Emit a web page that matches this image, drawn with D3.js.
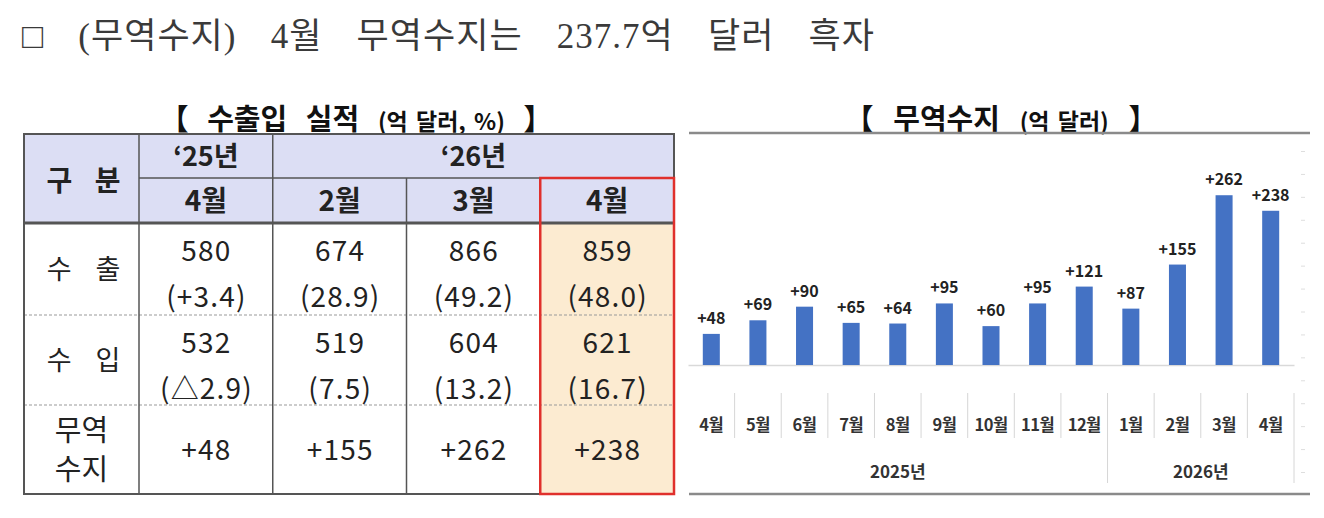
<!DOCTYPE html>
<html>
<head>
<meta charset="utf-8">
<script src="https://cdn.jsdelivr.net/npm/d3@7"></script>
<style>
  body { margin: 0; background: #fff; }
  svg { display: block; }
</style>
</head>
<body>
<script>
// ---- table data ----
var tblYears = ["‘25년", "‘26년"];
var tblYearSpan = [1, 3];
var tblMonths = ["4월", "2월", "3월", "4월"];
var rowLabels = [["수 출"], ["수 입"], ["무역", "수지"]];
var exportAmt = ["580", "674", "866", "859"];
var exportRate = ["(+3.4)", "(28.9)", "(49.2)", "(48.0)"];
var importAmt = ["532", "519", "604", "621"];
var importRate = ["(△2.9)", "(7.5)", "(13.2)", "(16.7)"];
var balanceTbl = ["+48", "+155", "+262", "+238"];

// ---- chart data ----
var balMonths = ["4월", "5월", "6월", "7월", "8월", "9월", "10월", "11월", "12월", "1월", "2월", "3월", "4월"];
var balYears = ["2025년", "2025년", "2025년", "2025년", "2025년", "2025년", "2025년", "2025년", "2025년",
                "2026년", "2026년", "2026년", "2026년"];
var balValues = [48, 69, 90, 65, 64, 95, 60, 95, 121, 87, 155, 262, 238];

var W = 1324, H = 518;
var kr = "'Noto Sans CJK KR', 'Noto Sans', sans-serif";

var svg = d3.select("body").append("svg")
    .attr("width", W)
    .attr("height", H);

// stretch the gaps between words so a line fills the given width
var fitWords = function (t, width, gaps) {
    var len = t.node().getComputedTextLength();
    if (gaps === undefined) gaps = (t.text().match(/ /g) || []).length;
    if (gaps > 0 && len < width) {
        t.style("word-spacing", ((width - len) / gaps) + "px");
    }
};

// page heading
var head = svg.append("text")
    .attr("x", 22)
    .attr("y", 48)
    .style("font-family", "'Liberation Serif', 'Noto Sans CJK KR', serif")
    .style("font-size", "35px")
    .style("letter-spacing", "1px")
    .style("fill", "#3a3a3a")
    .text("□ (무역수지) 4월 무역수지는 237.7억 달러 흑자");
fitWords(head, 853);

// bracket title helper, only the gaps outside the unit get stretched
var bracketTitle = function (cx, width, main, unit) {
    var t = svg.append("text")
        .attr("x", cx)
        .attr("y", 130)
        .attr("text-anchor", "middle")
        .style("font-family", kr)
        .style("font-weight", 700)
        .style("fill", "#111");
    var head = "【 " + main + " ";
    t.append("tspan").style("font-size", "29px").text(head);
    t.append("tspan").style("font-size", "23px").style("word-spacing", "3px").text(unit);
    t.append("tspan").style("font-size", "29px").text(" 】");
    var gaps = (head.match(/ /g) || []).length + 1;
    fitWords(t, width, gaps);
};

bracketTitle(356, 393, "수출입 실적", "(억 달러, %)");
bracketTitle(1001, 313, "무역수지", "(억 달러)");

// ================= table =================
var tLeft = 24, tRight = 674, tTop = 134, hMid = 178, hBot = 223, tBot = 494;
var labelRight = 139;
var rowEdges = [hBot, 315, 405, tBot];

var col = d3.scaleBand()
    .domain(d3.range(tblMonths.length))
    .range([labelRight, tRight]);

var tg = svg.append("g");

// fills
tg.append("rect")
    .attr("x", tLeft).attr("y", tTop)
    .attr("width", tRight - tLeft).attr("height", hBot - tTop)
    .style("fill", "#dcdef4");

var last = tblMonths.length - 1;
tg.append("rect")
    .attr("x", col(last)).attr("y", hBot)
    .attr("width", col.bandwidth()).attr("height", tBot - hBot)
    .style("fill", "#fcebd1");

var line = function (x1, y1, x2, y2, color, width, dash) {
    tg.append("line")
        .attr("x1", x1).attr("y1", y1)
        .attr("x2", x2).attr("y2", y2)
        .style("stroke", color)
        .style("stroke-width", width)
        .style("stroke-dasharray", dash || null);
};

// dashed row separators
line(tLeft, rowEdges[1], tRight, rowEdges[1], "#999", 1, "3,2");
line(tLeft, rowEdges[2], tRight, rowEdges[2], "#999", 1, "3,2");

// header lines
line(labelRight, hMid, tRight, hMid, "#555", 1.5);
line(tLeft, hBot, tRight, hBot, "#555", 3);

// vertical lines
line(labelRight, tTop, labelRight, tBot, "#555", 1.5);
col.domain().forEach(function (i) {
    if (i === 0) return;
    var top = i === 1 ? tTop : hMid;
    line(col(i), top, col(i), tBot, "#555", 1.5);
});

// outer border
tg.append("rect")
    .attr("x", tLeft).attr("y", tTop)
    .attr("width", tRight - tLeft).attr("height", tBot - tTop)
    .style("fill", "none")
    .style("stroke", "#555")
    .style("stroke-width", 2);

// highlight box
tg.append("rect")
    .attr("x", col(last)).attr("y", hMid)
    .attr("width", col.bandwidth()).attr("height", tBot - hMid)
    .style("fill", "none")
    .style("stroke", "#e0302c")
    .style("stroke-width", 2.5);

var cellText = function (x, y, str, size, weight, spacing) {
    var t = tg.append("text")
        .attr("x", x)
        .attr("y", y)
        .attr("text-anchor", "middle")
        .style("font-family", kr)
        .style("font-size", size + "px")
        .style("font-weight", weight)
        .style("fill", "#222")
        .text(str);
    if (spacing) {
        // letter-spacing also trails the last glyph, so shift back half of it
        t.style("letter-spacing", spacing + "px").attr("x", x + spacing / 2);
    }
    return t;
};

var labelCx = (tLeft + labelRight) / 2 + 2;

// header texts
cellText(labelCx, 191, "구 분", 28, 700, 8);
var c0 = 0;
tblYears.forEach(function (yl, k) {
    var span = tblYearSpan[k];
    var cx = col(c0) + col.bandwidth() * span / 2;
    cellText(cx, 166, yl, 27, 700);
    c0 += span;
});
tblMonths.forEach(function (m, i) {
    cellText(col(i) + col.bandwidth() / 2, 211, m, 28, 700);
});

// body
var bodyRows = [[exportAmt, exportRate], [importAmt, importRate], [balanceTbl]];
bodyRows.forEach(function (lines, r) {
    var top = rowEdges[r], bot = rowEdges[r + 1];
    var mid = (top + bot) / 2;
    var lab = rowLabels[r];
    if (lab.length === 1) {
        cellText(labelCx, mid + 10, lab[0], 27, 400, 9);
    } else {
        cellText(labelCx - 2, mid - 9, lab[0], 29, 400);
        cellText(labelCx - 2, mid + 30, lab[1], 29, 400);
    }
    lines.forEach(function (vals, li) {
        var y = lines.length === 1 ? mid + 10 : top + 38 + li * 46;
        vals.forEach(function (v, i) {
            cellText(col(i) + col.bandwidth() / 2, y, v, 28, 400, 1.2);
        });
    });
});

// ================= chart =================
var cLeft = 689, cRight = 1310, cTop = 133, cBot = 494;
var base = 365;

var cg = svg.append("g");

cg.append("line")
    .attr("x1", cLeft).attr("x2", cRight)
    .attr("y1", cTop).attr("y2", cTop)
    .style("stroke", "#8a8a8a").style("stroke-width", 2.5);
cg.append("line")
    .attr("x1", cLeft).attr("x2", cRight)
    .attr("y1", cBot).attr("y2", cBot)
    .style("stroke", "#8a8a8a").style("stroke-width", 2.5);

var slot = d3.scaleBand()
    .domain(d3.range(balValues.length))
    .range([688, 1294]);

var x = d3.scaleBand()
    .domain(d3.range(balValues.length))
    .range([688, 1294])
    .paddingInner(0.635)
    .paddingOuter(0.3175);

var y = d3.scaleLinear()
    .domain([0, 300])
    .range([base, base - 194.4]);

// faint secondary ticks on right edge
var yFaint = d3.scaleLinear().domain([0, 14]).range([151, 472]);
var rightAxis = cg.append("g")
    .attr("transform", "translate(1301,0)")
    .call(d3.axisRight(yFaint).ticks(14).tickSize(4).tickFormat(""));
rightAxis.select(".domain").remove();
rightAxis.selectAll("line").style("stroke", "#dedede");

// baseline axis
var bottomAxis = cg.append("g")
    .attr("transform", "translate(0," + base + ")")
    .call(d3.axisBottom(slot).tickSize(0).tickFormat(""));
bottomAxis.select(".domain").style("stroke", "#d9d9d9").style("stroke-width", 1.5);

// bars
cg.selectAll(".bar")
    .data(balValues)
    .enter().append("rect")
    .attr("class", "bar")
    .attr("x", function (d, i) { return x(i); })
    .attr("y", function (d) { return y(d); })
    .attr("width", x.bandwidth())
    .attr("height", function (d) { return y(0) - y(d); })
    .style("fill", "#4472c4");

// value labels
cg.selectAll(".val")
    .data(balValues)
    .enter().append("text")
    .attr("class", "val")
    .attr("x", function (d, i) { return x(i) + x.bandwidth() / 2; })
    .attr("y", function (d) { return y(d) - 10; })
    .attr("text-anchor", "middle")
    .style("font-family", kr)
    .style("font-size", "16px")
    .style("font-weight", 700)
    .style("fill", "#222")
    .text(function (d) { return "+" + d; });

// month labels
cg.selectAll(".mon")
    .data(balMonths)
    .enter().append("text")
    .attr("class", "mon")
    .attr("x", function (d, i) { return slot(i) + slot.bandwidth() / 2; })
    .attr("y", 431)
    .attr("text-anchor", "middle")
    .style("font-family", kr)
    .style("font-size", "16.5px")
    .style("font-weight", 700)
    .style("letter-spacing", "-0.5px")
    .style("fill", "#333")
    .text(function (d) { return d; });

// separators between months, longer between years
var edges = d3.range(balValues.length + 1);
cg.selectAll(".sep")
    .data(edges)
    .enter().append("line")
    .attr("class", "sep")
    .attr("x1", function (i) { return i < balValues.length ? slot(i) : slot.range()[1]; })
    .attr("x2", function (i) { return i < balValues.length ? slot(i) : slot.range()[1]; })
    .attr("y1", 393)
    .attr("y2", function (i) {
        var isYear = i === 0 || i === balValues.length || balYears[i] !== balYears[i - 1];
        return isYear ? 483 : 438;
    })
    .style("stroke", function (i) { return i === 0 ? "none" : "#d6d6d6"; })
    .style("stroke-width", 1);

// year labels
var yearGroups = d3.groups(d3.range(balValues.length), function (i) { return balYears[i]; });
cg.selectAll(".yr")
    .data(yearGroups)
    .enter().append("text")
    .attr("class", "yr")
    .attr("x", function (g) {
        var idx = g[1];
        return (slot(idx[0]) + slot(idx[idx.length - 1]) + slot.bandwidth()) / 2;
    })
    .attr("y", 478)
    .attr("text-anchor", "middle")
    .style("font-family", kr)
    .style("font-size", "17px")
    .style("font-weight", 700)
    .style("fill", "#333")
    .text(function (g) { return g[0]; });
</script>
</body>
</html>
